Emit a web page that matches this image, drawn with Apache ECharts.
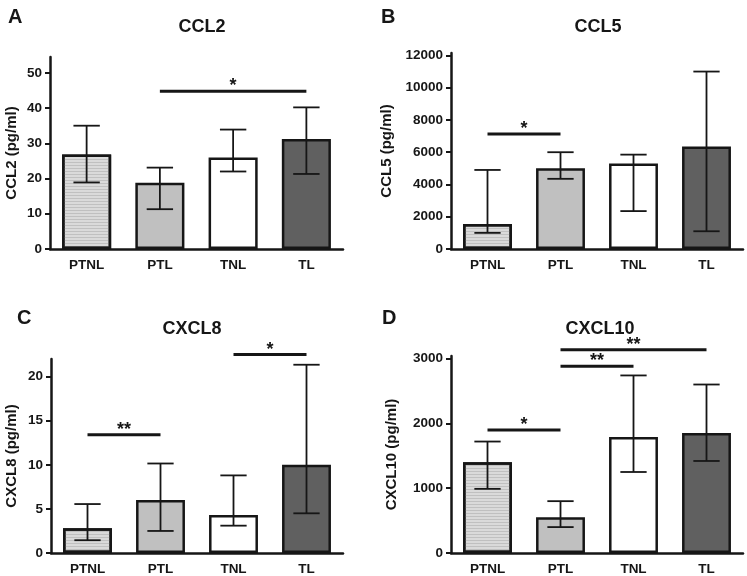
<!DOCTYPE html>
<html>
<head>
<meta charset="utf-8">
<script src="https://cdn.jsdelivr.net/npm/echarts@6/dist/echarts.min.js"></script>
<style>
html,body{margin:0;padding:0;background:#fff;}
#chart{width:747px;height:576px;}
</style>
</head>
<body>
<div id="chart"></div>
<script>
// ---- data ----
const categories = ['PTNL', 'PTL', 'TNL', 'TL'];

const ccl2Value = [26.8, 18.8, 26.0, 31.2];
const ccl2Low   = [18.9, 11.3, 22.0, 21.3];
const ccl2High  = [35.0, 23.1, 33.9, 40.2];
const ccl2Ticks = [0, 10, 20, 30, 40, 50];
const ccl2Sig   = [[1, 3, 44.8, '*']];

const ccl5Value = [1550, 5000, 5300, 6350];
const ccl5Low   = [1000, 4350, 2350, 1100];
const ccl5High  = [4900, 6000, 5850, 11000];
const ccl5Ticks = [0, 2000, 4000, 6000, 8000, 10000, 12000];
const ccl5Sig   = [[0, 1, 7130, '*']];

const cxcl8Value = [2.8, 6.0, 4.3, 10.0];
const cxcl8Low   = [1.45, 2.5, 3.1, 4.5];
const cxcl8High  = [5.55, 10.15, 8.8, 21.35];
const cxcl8Ticks = [0, 5, 10, 15, 20];
const cxcl8Sig   = [[0, 1, 13.4, '**'], [2, 3, 22.5, '*']];

const cxcl10Value = [1400, 550, 1790, 1850];
const cxcl10Low   = [990, 400, 1250, 1420];
const cxcl10High  = [1720, 800, 2740, 2600];
const cxcl10Ticks = [0, 1000, 2000, 3000];
const cxcl10Sig   = [[0, 1, 1900, '*'], [1, 2, 2880, '**'], [1, 3, 3135, '**']];

// ---- styling ----
const FONT = 'Liberation Sans, Arial, sans-serif';
const INK = '#161616';
const barColors = ['#dadada', '#c0c0c0', '#ffffff', '#606060'];

const panels = [
  {name: 'CCL2 (pg/ml)',   value: ccl2Value,   low: ccl2Low,   high: ccl2High,   ticks: ccl2Ticks,   sig: ccl2Sig,   max: 54.5,
   nameGap: 31, grid: {left: 50, right: 404, top: 57, bottom: 327}},
  {name: 'CCL5 (pg/ml)',   value: ccl5Value,   low: ccl5Low,   high: ccl5High,   ticks: ccl5Ticks,   sig: ccl5Sig,   max: 12150,
   nameGap: 57, grid: {left: 451, right: 4, top: 53, bottom: 327}},
  {name: 'CXCL8 (pg/ml)',  value: cxcl8Value,  low: cxcl8Low,  high: cxcl8High,  ticks: cxcl8Ticks,  sig: cxcl8Sig,  max: 22,
   nameGap: 32, grid: {left: 51, right: 404, top: 359, bottom: 23}},
  {name: 'CXCL10 (pg/ml)', value: cxcl10Value, low: cxcl10Low, high: cxcl10High, ticks: cxcl10Ticks, sig: cxcl10Sig, max: 3040,
   nameGap: 52, grid: {left: 451, right: 4, top: 356, bottom: 23}}
];

const grids = [], xAxes = [], yAxes = [], series = [];

panels.forEach((p, i) => {
  grids.push(p.grid);
  xAxes.push({
    type: 'category', gridIndex: i, data: categories,
    axisLine: {lineStyle: {color: INK, width: 2.5}},
    axisTick: {alignWithLabel: true, length: 5, lineStyle: {color: INK, width: 2}},
    axisLabel: {color: INK, fontWeight: 'bold', fontSize: 13.5, fontFamily: FONT, margin: 9}
  });
  yAxes.push({
    type: 'value', gridIndex: i, min: 0, max: p.max,
    name: p.name, nameLocation: 'middle', nameGap: p.nameGap,
    nameTextStyle: {color: INK, fontWeight: 'bold', fontSize: 15, fontFamily: FONT},
    splitLine: {show: false},
    axisLine: {show: true, lineStyle: {color: INK, width: 2.5}},
    axisTick: {show: true, length: 5, customValues: p.ticks, lineStyle: {color: INK, width: 2}},
    axisLabel: {color: INK, fontWeight: 'bold', fontSize: 13.5, fontFamily: FONT, margin: 8,
                customValues: p.ticks, formatter: v => String(v)}
  });
  series.push({
    type: 'bar', xAxisIndex: i, yAxisIndex: i, barWidth: '67%',
    data: p.value.map((v, k) => ({
      value: v,
      itemStyle: Object.assign({color: barColors[k], borderColor: INK, borderWidth: 2.5},
        k === 0 ? {decal: {symbol: 'rect', symbolSize: 1, dashArrayX: [[1, 0]], dashArrayY: [1, 2], rotation: 0, color: 'rgba(160,160,160,0.45)'}} : {})
    })),
    z: 2
  });
  series.push({
    type: 'custom', xAxisIndex: i, yAxisIndex: i, z: 5,
    data: p.value.map((v, k) => [k, p.low[k], p.high[k]]),
    renderItem: function (params, api) {
      const x = api.value(0);
      const a = api.coord([x, api.value(1)]);
      const b = api.coord([x, api.value(2)]);
      const half = api.size([1, 0])[0] * 0.18;
      const st = {stroke: INK, lineWidth: 1.8};
      return {type: 'group', children: [
        {type: 'line', shape: {x1: a[0], y1: a[1], x2: b[0], y2: b[1]}, style: st},
        {type: 'line', shape: {x1: a[0] - half, y1: a[1], x2: a[0] + half, y2: a[1]}, style: st},
        {type: 'line', shape: {x1: b[0] - half, y1: b[1], x2: b[0] + half, y2: b[1]}, style: st}
      ]};
    }
  });
  const sig = p.sig;
  series.push({
    type: 'custom', xAxisIndex: i, yAxisIndex: i, z: 6, clip: false,
    data: sig.map(s => [s[0], s[1], s[2]]),
    renderItem: function (params, api) {
      const a = api.coord([api.value(0), api.value(2)]);
      const b = api.coord([api.value(1), api.value(2)]);
      const label = sig[params.dataIndex][3];
      return {type: 'group', children: [
        {type: 'line', shape: {x1: a[0], y1: a[1], x2: b[0], y2: b[1]}, style: {stroke: INK, lineWidth: 3}},
        {type: 'text', x: (a[0] + b[0]) / 2, y: a[1] + 4,
         style: {text: label, fill: INK, font: 'bold 18px ' + FONT, align: 'center', verticalAlign: 'bottom'}}
      ]};
    }
  });
});

const titleStyle = {color: INK, fontWeight: 'bold', fontSize: 18, fontFamily: FONT};
const letterStyle = {color: INK, fontWeight: 'bold', fontSize: 20, fontFamily: FONT};
const titles = [
  {text: 'A', left: 3, top: 2, textStyle: letterStyle},
  {text: 'B', left: 376, top: 2, textStyle: letterStyle},
  {text: 'C', left: 12, top: 303, textStyle: letterStyle},
  {text: 'D', left: 377, top: 303, textStyle: letterStyle},
  {text: 'CCL2', left: 197, top: 13, textAlign: 'center', textStyle: titleStyle},
  {text: 'CCL5', left: 593, top: 13, textAlign: 'center', textStyle: titleStyle},
  {text: 'CXCL8', left: 187, top: 315, textAlign: 'center', textStyle: titleStyle},
  {text: 'CXCL10', left: 595, top: 315, textAlign: 'center', textStyle: titleStyle}
];

const chart = echarts.init(document.getElementById('chart'), null, {renderer: 'canvas'});
chart.setOption({
  animation: false,
  backgroundColor: '#ffffff',
  title: titles,
  grid: grids,
  xAxis: xAxes,
  yAxis: yAxes,
  series: series
});
</script>
</body>
</html>
